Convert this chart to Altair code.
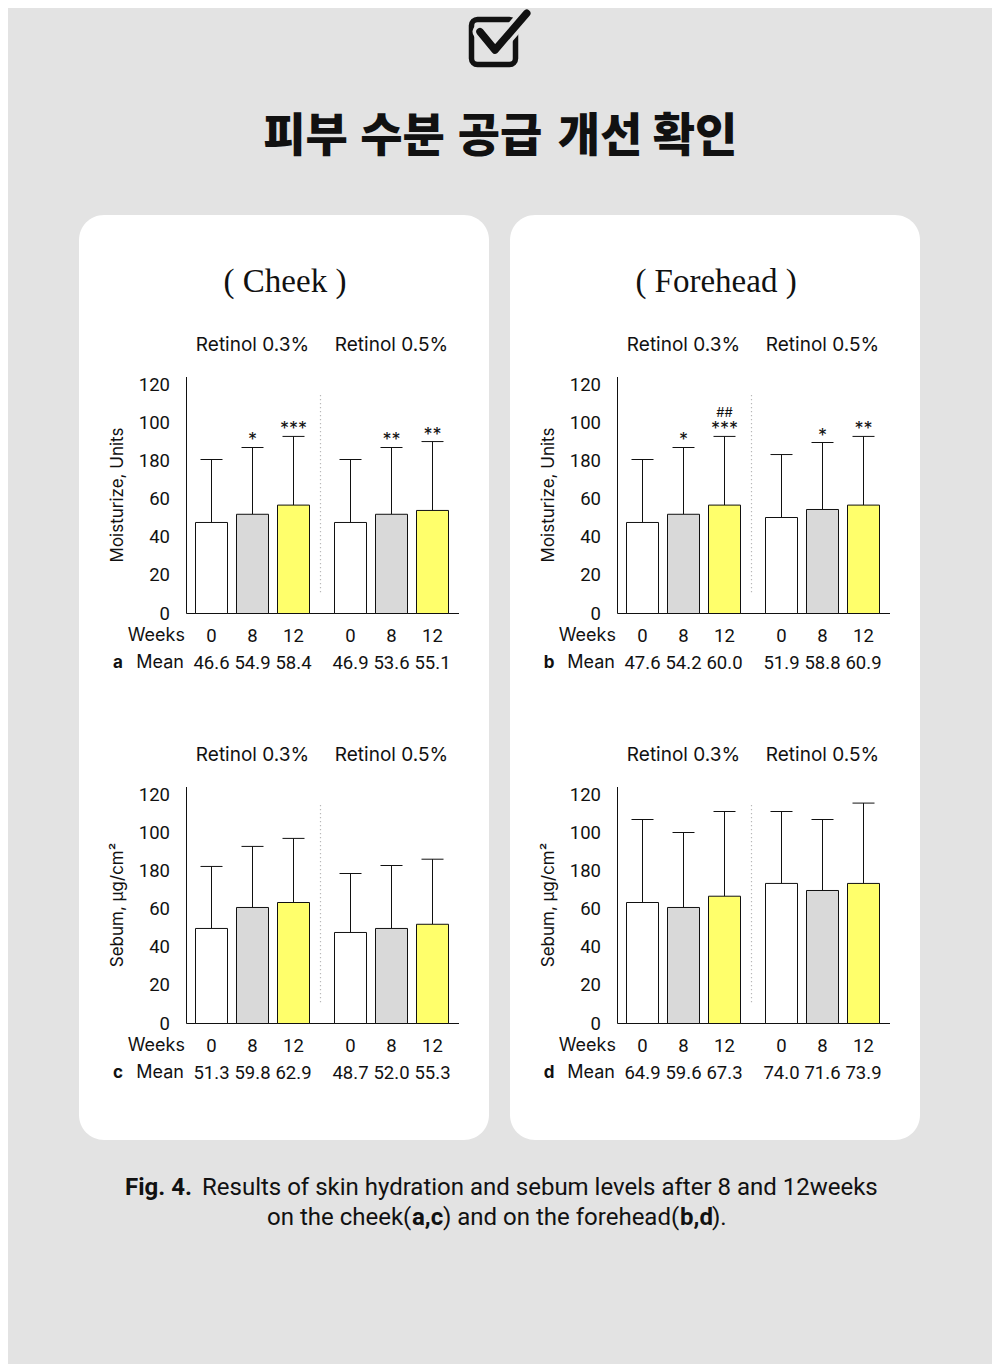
import altair as alt
import pandas as pd

W, H = 984, 1356
BG = "#e3e3e3"
SANS = "Inter"
NUM = "Roboto"
CAP = "Roboto"
BLACK = "#111111"

title_words = ["피부", "수분", "공급", "개선", "확인"]
title_x = [297.5, 394.5, 492, 592, 687]
panel_titles = ["( Cheek )", "( Forehead )"]
weeks = ["0", "8", "12"]
groups = ["Retinol 0.3%", "Retinol 0.5%"]
week_fill = ["#ffffff", "#d9d9d9", "#ffff6b"]
ytick_vals = [0, 20, 40, 60, 80, 100, 120]
ytick_labels = ["0", "20", "40", "60", "180", "100", "120"]
ytitles = ["Moisturize, Units", "Sebum, \u03bcg/cm\u00b2"]

# a: cheek, moisture
a_bar = [47.7, 52.0, 56.8, 47.7, 52.0, 54.0]
a_err = [80.7, 87.0, 92.8, 80.7, 87.0, 90.1]
a_star = ["", "*", "***", "", "**", "**"]
a_hash = ["", "", "", "", "", ""]
a_mean = ["46.6", "54.9", "58.4", "46.9", "53.6", "55.1"]
# b: forehead, moisture
b_bar = [47.7, 52.0, 56.8, 50.3, 54.5, 56.8]
b_err = [80.7, 87.0, 92.8, 83.3, 89.6, 92.8]
b_star = ["", "*", "***", "", "*", "**"]
b_hash = ["", "", "##", "", "", ""]
b_mean = ["47.6", "54.2", "60.0", "51.9", "58.8", "60.9"]
# c: cheek, sebum
c_bar = [49.8, 60.8, 63.4, 47.7, 49.8, 52.0]
c_err = [82.3, 92.8, 97.0, 78.6, 82.8, 86.1]
c_star = ["", "", "", "", "", ""]
c_hash = ["", "", "", "", "", ""]
c_mean = ["51.3", "59.8", "62.9", "48.7", "52.0", "55.3"]
# d: forehead, sebum
d_bar = [63.4, 60.8, 66.7, 73.4, 69.7, 73.4]
d_err = [106.9, 100.1, 111.1, 111.1, 106.9, 115.5]
d_star = ["", "", "", "", "", ""]
d_hash = ["", "", "", "", "", ""]
d_mean = ["64.9", "59.6", "67.3", "74.0", "71.6", "73.9"]

caption1 = [("Fig. 4.", "bold", 117),
            ("Results of skin hydration and sebum levels after 8 and 12weeks", "normal", 194)]
caption2 = [("on the cheek(", "normal", 259), ("a,c", "bold", 404),
            (") and on the forehead(", "normal", 435), ("b,d", "bold", 672),
            (").", "normal", 704)]

one = pd.DataFrame({"k": [0]})


def deco():
    return alt.Chart(one)


layers = []

# white panels
for px in (0, 431):
    layers.append(deco().mark_rect(fill="white", cornerRadius=25).encode(
        x=alt.value(71 + px), x2=alt.value(481 + px), y=alt.value(207), y2=alt.value(1132)))

# check box icon
layers.append(deco().mark_rect(fillOpacity=0, stroke=BLACK, strokeWidth=5.5, cornerRadius=6).encode(
    x=alt.value(463.5), x2=alt.value(507.5), y=alt.value(11.5), y2=alt.value(56.5)))
check_path = "M-0.92,-0.01 L-0.32,0.72 L0.95,-0.75"
layers.append(deco().mark_point(shape=check_path, size=2500, filled=False, color=BG, opacity=1,
                                 strokeWidth=15, strokeCap="round", strokeJoin="round").encode(
    x=alt.value(495), y=alt.value(24)))
layers.append(deco().mark_point(shape=check_path, size=2500, filled=False, color=BLACK, opacity=1,
                                 strokeWidth=7.5, strokeCap="round", strokeJoin="round").encode(
    x=alt.value(495), y=alt.value(24)))

# main title, word by word
for w, x in zip(title_words, title_x):
    layers.append(deco().mark_text(text=w, font="Noto Sans CJK KR", fontWeight=900, fontSize=46,
                                   color=BLACK, align="center", baseline="middle").encode(
        x=alt.value(x), y=alt.value(129)))

# panel titles
for px, t in zip((0, 431), panel_titles):
    layers.append(deco().mark_text(text=t, font="Liberation Serif", fontSize=33, color=BLACK,
                                   align="center", baseline="alphabetic").encode(
        x=alt.value(277 + px), y=alt.value(284)))


def subplot(px, ry, bars, errs, stars, hashes, means, letter, ytitle):
    out = []
    ysc = alt.Scale(domain=[0, 120], range=[605.5 + ry, 376.5 + ry], nice=False, zero=False)
    # axes lines
    out.append(deco().mark_rule(color=BLACK, strokeWidth=1).encode(
        x=alt.value(178.5 + px), y=alt.value(369 + ry), y2=alt.value(605.5 + ry)))
    out.append(deco().mark_rule(color=BLACK, strokeWidth=1).encode(
        x=alt.value(178.5 + px), x2=alt.value(451 + px), y=alt.value(605.5 + ry)))
    out.append(deco().mark_rule(color="#b8b8b8", strokeWidth=1.2, strokeDash=[1.2, 2.8]).encode(
        x=alt.value(312.5 + px), y=alt.value(387 + ry), y2=alt.value(587 + ry)))
    # y tick labels
    tdf = pd.DataFrame({"v": ytick_vals, "lab": ytick_labels})
    out.append(alt.Chart(tdf).mark_text(font=NUM, fontSize=18.5, color=BLACK, align="right",
                                        baseline="middle").encode(
        x=alt.value(162 + px), y=alt.Y("v:Q", scale=ysc, axis=None), text="lab:N"))
    # y title
    out.append(deco().mark_text(text=ytitle, font=SANS, fontSize=17, color=BLACK, angle=270,
                                align="center", baseline="middle").encode(
        x=alt.value(109.5 + px), y=alt.value(487 + ry)))
    # row labels
    out.append(deco().mark_text(text="Weeks", font=SANS, fontSize=18, color=BLACK, align="right",
                                baseline="middle").encode(x=alt.value(177 + px), y=alt.value(628 + ry)))
    out.append(deco().mark_text(text="Mean", font=SANS, fontSize=18, color=BLACK, align="right",
                                baseline="middle").encode(x=alt.value(176 + px), y=alt.value(655 + ry)))
    out.append(deco().mark_text(text=letter, font=SANS, fontSize=17, fontWeight="bold", color=BLACK,
                                align="center", baseline="middle").encode(
        x=alt.value(110 + px), y=alt.value(655 + ry)))
    for gi, (x0, x1) in enumerate([(187.5, 301.5), (326.5, 440.5)]):
        xsc = alt.Scale(type="band", domain=weeks, range=[x0 + px, x1 + px],
                        paddingInner=9 / 41, paddingOuter=0)
        sl = slice(gi * 3, gi * 3 + 3)
        df = pd.DataFrame({
            "week": weeks, "val": bars[sl], "err": errs[sl], "star": stars[sl],
            "hash": hashes[sl], "mean": means[sl], "group": ["", groups[gi], ""],
        })
        X = alt.X("week:N", scale=xsc, axis=None)
        base = alt.Chart(df)
        out.append(base.mark_rule(color=BLACK, strokeWidth=1).encode(
            x=X, y=alt.Y("val:Q", scale=ysc, axis=None), y2="err:Q"))
        out.append(base.mark_tick(orient="horizontal", size=22, thickness=1, color=BLACK, opacity=1).encode(
            x=X, y=alt.Y("err:Q", scale=ysc, axis=None)))
        out.append(base.mark_bar(stroke=BLACK, strokeWidth=1).encode(
            x=X, y=alt.Y("val:Q", scale=ysc, axis=None), y2=alt.datum(0),
            fill=alt.Fill("week:N", scale=alt.Scale(domain=weeks, range=week_fill), legend=None)))
        out.append(base.mark_text(font=SANS, fontSize=18, color=BLACK, baseline="alphabetic", dy=-1).encode(
            x=X, y=alt.Y("err:Q", scale=ysc, axis=None), text="star:N"))
        out.append(base.mark_text(font=SANS, fontSize=13, color=BLACK, baseline="alphabetic", dy=-19).encode(
            x=X, y=alt.Y("err:Q", scale=ysc, axis=None), text="hash:N"))
        out.append(base.mark_text(font=NUM, fontSize=18.5, color=BLACK, baseline="middle").encode(
            x=X, y=alt.value(628 + ry), text="week:N"))
        out.append(base.mark_text(font=NUM, fontSize=18.5, color=BLACK, baseline="middle").encode(
            x=X, y=alt.value(655 + ry), text="mean:N"))
        out.append(base.mark_text(font=SANS, fontSize=19, color=BLACK, baseline="middle").encode(
            x=X, y=alt.value(337 + ry), text="group:N"))
    return out


layers += subplot(0, 0, a_bar, a_err, a_star, a_hash, a_mean, "a", ytitles[0])
layers += subplot(431, 0, b_bar, b_err, b_star, b_hash, b_mean, "b", ytitles[0])
layers += subplot(0, 410, c_bar, c_err, c_star, c_hash, c_mean, "c", ytitles[1])
layers += subplot(431, 410, d_bar, d_err, d_star, d_hash, d_mean, "d", ytitles[1])

# caption
for t, wgt, x in caption1:
    layers.append(deco().mark_text(text=t, font=CAP, fontSize=24, fontWeight=wgt, color=BLACK,
                                   align="left", baseline="alphabetic").encode(
        x=alt.value(x), y=alt.value(1187)))
for t, wgt, x in caption2:
    layers.append(deco().mark_text(text=t, font=CAP, fontSize=24, fontWeight=wgt, color=BLACK,
                                   align="left", baseline="alphabetic").encode(
        x=alt.value(x), y=alt.value(1217)))

chart = alt.layer(*layers).resolve_scale(
    x="independent", y="independent", fill="independent"
).properties(
    width=W, height=H, padding=0, autosize=alt.AutoSizeParams(type="none"), background=BG
).configure_view(stroke=None)

chart.save("out.html", embed_options={"renderer": "svg", "actions": False})
